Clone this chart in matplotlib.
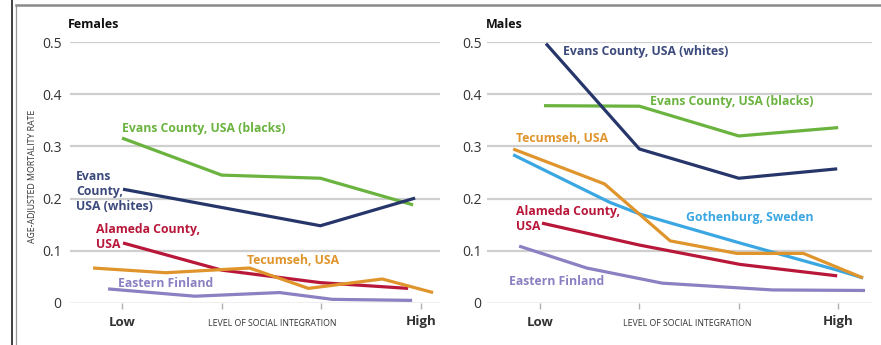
import matplotlib.pyplot as plt
from matplotlib.lines import Line2D

plt.rcParams['font.family'] = ['Open Sans', 'DejaVu Sans']

# category positions: 0 = Low ... 3 = High
levels = ['Low', '', '', 'High']

# Females
f_blacks_x = [0.0, 1.0, 1.99, 2.92]
f_blacks_y = [0.316, 0.245, 0.239, 0.188]
f_whites_x = [0.01, 1.99, 2.94]
f_whites_y = [0.218, 0.148, 0.201]
f_alameda_x = [0.01, 1.0, 1.99, 2.87]
f_alameda_y = [0.115, 0.063, 0.039, 0.028]
f_tecumseh_x = [-0.29, 0.44, 1.28, 1.87, 2.61, 3.12]
f_tecumseh_y = [0.067, 0.058, 0.067, 0.028, 0.046, 0.020]
f_finland_x = [-0.14, 0.73, 1.58, 2.11, 2.91]
f_finland_y = [0.027, 0.013, 0.020, 0.007, 0.005]

# Males
m_whites_x = [0.06, 1.0, 2.0, 2.99]
m_whites_y = [0.497, 0.295, 0.239, 0.257]
m_blacks_x = [0.04, 1.0, 2.0, 3.0]
m_blacks_y = [0.378, 0.377, 0.320, 0.336]
m_tecumseh_x = [-0.27, 0.65, 1.31, 1.98, 2.65, 3.25]
m_tecumseh_y = [0.295, 0.228, 0.119, 0.095, 0.095, 0.048]
m_gothenburg_x = [-0.27, 0.70, 1.01, 2.01, 2.99, 3.25]
m_gothenburg_y = [0.284, 0.193, 0.170, 0.115, 0.063, 0.048]
m_alameda_x = [0.02, 1.0, 2.01, 2.99]
m_alameda_y = [0.153, 0.111, 0.074, 0.052]
m_finland_x = [-0.21, 0.47, 1.23, 2.34, 3.27]
m_finland_y = [0.109, 0.067, 0.038, 0.025, 0.024]

GREEN = '#6ab33f'
NAVY = '#27366a'
RED = '#b8173a'
ORANGE = '#e0942c'
PURPLE = '#8a80c2'
BLUE = '#3ba7e2'
GRID = '#cfcfcf'


def setup(ax, xlim, pad):
    ax.set_xlim(*xlim)
    ax.set_ylim(0, 0.5)
    for s in ax.spines.values():
        s.set_visible(False)
    for v in [0.1, 0.2, 0.3, 0.4, 0.5]:
        ax.axhline(v, color=GRID, lw=1.6, zorder=0)
    ax.axhline(0, color='#b0b0b0', lw=1.0, zorder=0)
    ax.set_yticks([0, 0.1, 0.2, 0.3, 0.4, 0.5])
    ax.set_yticklabels(['0', '0.1', '0.2', '0.3', '0.4', '0.5'])
    ax.tick_params(axis='y', length=0, pad=pad, labelsize=10, labelcolor='#333333')
    ax.set_xticks(range(4))
    ax.set_xticklabels(levels)
    ax.tick_params(axis='x', length=4, width=1, color='#b0b0b0', pad=5,
                   labelsize=9.5, labelcolor='#333333')
    for lab in ax.get_xticklabels():
        lab.set_fontweight('bold')


def line(ax, x, y, c):
    ax.plot(x, y, color=c, lw=2.3, clip_on=False, solid_capstyle='butt')


def label(ax, x, y, s, c):
    ax.text(x, y, s, color=c, fontsize=8.8, fontweight='bold',
            ha='left', va='center', linespacing=1.2)


fig = plt.figure(figsize=(8.81, 3.45), dpi=100)
axf = fig.add_axes([70 / 881, 42 / 345, 370 / 881, 261 / 345])
axm = fig.add_axes([487 / 881, 42 / 345, 385 / 881, 261 / 345])

setup(axf, ((70 - 122) / 99.7, (440 - 122) / 99.7), 6)
setup(axm, ((487 - 540) / 99.4, (872 - 540) / 99.4), 4)

line(axf, f_finland_x, f_finland_y, PURPLE)
line(axf, f_alameda_x, f_alameda_y, RED)
line(axf, f_tecumseh_x, f_tecumseh_y, ORANGE)
line(axf, f_blacks_x, f_blacks_y, GREEN)
line(axf, f_whites_x, f_whites_y, NAVY)

label(axf, 0.0, 0.334, 'Evans County, USA (blacks)', GREEN)
label(axf, -0.46, 0.214, 'Evans\nCounty,\nUSA (whites)', '#3c4a7c')
label(axf, -0.26, 0.126, 'Alameda County,\nUSA', RED)
label(axf, 1.25, 0.082, 'Tecumseh, USA', ORANGE)
label(axf, -0.04, 0.038, 'Eastern Finland', PURPLE)

line(axm, m_finland_x, m_finland_y, PURPLE)
line(axm, m_alameda_x, m_alameda_y, RED)
line(axm, m_gothenburg_x, m_gothenburg_y, BLUE)
line(axm, m_tecumseh_x, m_tecumseh_y, ORANGE)
line(axm, m_blacks_x, m_blacks_y, GREEN)
line(axm, m_whites_x, m_whites_y, NAVY)

label(axm, 0.23, 0.482, 'Evans County, USA (whites)', '#3c4a7c')
label(axm, 1.11, 0.386, 'Evans County, USA (blacks)', GREEN)
label(axm, -0.24, 0.316, 'Tecumseh, USA', ORANGE)
label(axm, 1.47, 0.163, 'Gothenburg, Sweden', BLUE)
label(axm, -0.24, 0.160, 'Alameda County,\nUSA', RED)
label(axm, -0.31, 0.042, 'Eastern Finland', PURPLE)

fig.text(68 / 881, 1 - 25 / 345, 'Females', fontsize=9, fontweight='bold',
         ha='left', va='center', color='#111111')
fig.text(486 / 881, 1 - 25 / 345, 'Males', fontsize=9, fontweight='bold',
         ha='left', va='center', color='#111111')
fig.text(32 / 881, 1 - 176 / 345, 'AGE-ADJUSTED MORTALITY RATE', fontsize=6.3,
         rotation=90, ha='center', va='center', color='#333333')
fig.text(272 / 881, 1 - 323 / 345, 'LEVEL OF SOCIAL INTEGRATION', fontsize=6.3,
         ha='center', va='center', color='#333333')
fig.text(687 / 881, 1 - 323 / 345, 'LEVEL OF SOCIAL INTEGRATION', fontsize=6.3,
         ha='center', va='center', color='#333333')

# outer frame
fig.add_artist(Line2D([12 / 881, 12 / 881], [0, 1], color='#333333', lw=1.3))
fig.add_artist(Line2D([16 / 881, 16 / 881], [0, 1 - 5 / 345], color='#999999', lw=0.9))
fig.add_artist(Line2D([16 / 881, 1], [1 - 5 / 345, 1 - 5 / 345], color='#8a8a8a', lw=1.8))

fig.savefig('out.png', dpi=100)
